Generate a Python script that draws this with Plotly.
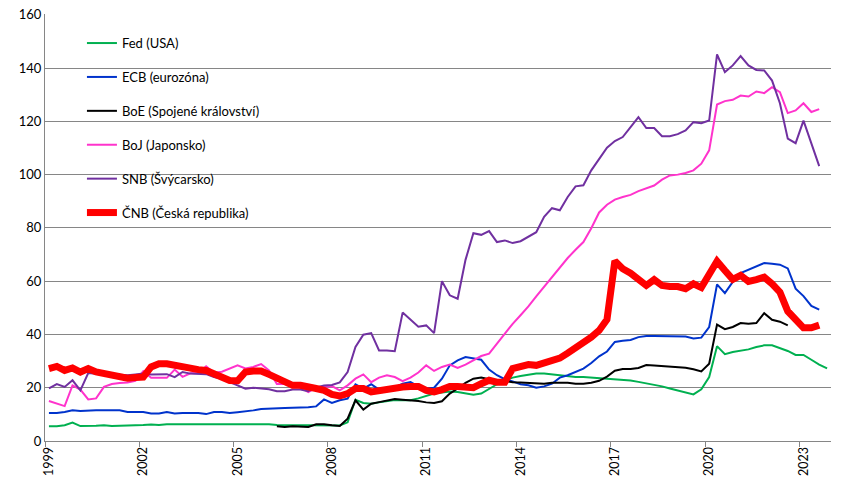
import plotly.graph_objects as go

# Quarterly periods 1999Q1 .. 2023Q4
years = list(range(1999, 2024))
quarters = [1, 2, 3, 4]
x_pos = [y + (q - 0.5) / 4 for y in years for q in quarters]

tick_years = ["1999", "2002", "2005", "2008", "2011", "2014", "2017", "2020", "2023"]

fed = [5.5, 5.5, 5.9, 6.9, 5.6, 5.6, 5.7, 5.9, 5.6, 5.7, 5.9, 5.9, 6.0, 6.2, 6.0, 6.3,
       6.3, 6.3, 6.4, 6.4, 6.4, 6.4, 6.4, 6.5, 6.5, 6.5, 6.5, 6.5, 6.3, 6.0, 5.9, 5.9,
       5.9, 5.9, 5.9, 6.0, 5.9, 5.8, 7.0, 15.5, 14.3, 14.0, 14.5, 15.0, 15.4, 15.3, 15.3, 16.0,
       16.9, 17.8, 18.2, 18.6, 18.4, 17.8, 17.4, 17.8, 19.7, 21.3, 22.8, 23.8, 24.4, 24.9, 25.3, 25.3,
       25.0, 24.7, 24.4, 24.0, 24.0, 23.8, 23.4, 23.3, 23.2, 23.0, 22.7, 22.2, 21.7, 21.2, 20.5, 19.7,
       18.9, 18.2, 17.5, 19.4, 24.0, 35.6, 32.6, 33.4, 34.0, 34.4, 35.3, 35.9, 35.9, 34.9, 33.8, 32.3,
       32.3, 30.5, 28.7, 27.3]

ecb = [10.5, 10.5, 10.9, 11.5, 11.3, 11.5, 11.5, 11.5, 11.5, 11.5, 10.9, 10.9, 10.9, 10.3, 10.3, 10.9,
       10.3, 10.5, 10.5, 10.5, 10.1, 10.9, 10.9, 10.5, 10.8, 11.1, 11.5, 12.0, 12.2, 12.4, 12.4, 12.5,
       12.5, 12.7, 13.0, 15.6, 14.3, 15.3, 15.9, 21.3, 19.7, 21.3, 19.3, 19.7, 20.0, 21.5, 22.1, 20.5,
       19.7, 20.0, 23.4, 28.4, 30.3, 31.5, 31.1, 30.5, 26.8, 24.7, 23.2, 22.4, 21.3, 20.9, 20.0, 20.5,
       21.5, 23.8, 24.7, 25.9, 27.2, 29.3, 31.8, 33.6, 37.2, 37.6, 37.9, 39.0, 39.4, 39.4, 39.4, 39.4,
       39.4, 39.2, 38.5, 38.8, 42.8, 58.8, 55.5, 59.7, 63.0, 64.2, 65.5, 66.8, 66.5, 66.2, 64.8, 57.2,
       54.4, 50.7, 49.3, None]

boe = [None] * 29 + [
       5.5, 5.3, 5.5, 5.3, 5.3, 6.3, 6.3, 5.9, 5.6, 8.4, 15.3, 11.8, 14.0, 14.6, 15.3, 15.8,
       15.5, 15.3, 15.0, 14.5, 14.3, 14.9, 17.8, 19.7, 21.8, 23.4, 23.8, 23.2, 22.8, 22.4, 22.1, 22.0,
       21.8, 21.5, 21.5, 21.9, 21.9, 21.9, 21.5, 21.5, 21.9, 22.6, 24.2, 26.4, 27.0, 27.0, 27.4, 28.5,
       28.3, 28.1, 27.8, 27.8, 27.5, 26.9, 26.1, 29.0, 43.7, 42.0, 42.8, 44.3, 44.0, 44.3, 48.0, 45.5,
       44.8, 43.4] + [None] * 5

boj = [15.0, 14.0, 13.1, 20.9, 19.3, 15.6, 16.0, 20.3, 21.4, 21.8, 22.0, 22.6, 26.2, 23.7, 23.6, 23.7,
       26.8, 24.1, 25.4, 25.4, 28.0, 25.6, 26.0, 27.2, 28.4, 27.2, 27.8, 28.9, 26.5, 21.4, 21.4, 20.9,
       20.0, 18.4, 20.0, 20.5, 20.6, 19.0, 20.9, 23.4, 25.0, 22.1, 23.8, 24.7, 24.0, 22.5, 23.8, 25.7,
       28.4, 26.3, 27.8, 28.7, 27.4, 28.7, 30.3, 31.9, 32.8, 36.5, 40.5, 44.0, 47.2, 50.5, 54.3, 58.0,
       61.3, 65.0, 68.7, 71.8, 74.7, 79.9, 85.8, 88.7, 90.6, 91.6, 92.4, 93.8, 94.9, 95.9, 98.1, 99.7,
       100.0, 100.6, 101.6, 104.1, 109.1, 126.3, 127.6, 128.1, 129.7, 129.3, 131.2, 130.6, 132.8, 131.0, 123.1, 124.1,
       126.8, 123.5, 124.6, None]

snb = [19.8, 21.4, 20.3, 22.8, 19.0, 25.5, 25.2, 24.9, 24.7, 24.9, 24.7, 25.0, 25.3, 25.0, 25.1, 25.1,
       24.0, 25.9, 25.3, 25.2, 25.1, 24.0, 23.4, 22.1, 20.8, 19.6, 20.0, 19.8, 19.4, 18.7, 18.7, 19.3,
       19.3, 18.7, 20.1, 20.8, 21.0, 22.0, 25.9, 35.3, 39.9, 40.5, 34.0, 34.0, 33.7, 48.2, 45.5, 42.9,
       43.4, 40.5, 60.0, 54.7, 53.4, 68.0, 78.0, 77.4, 78.8, 74.7, 75.3, 74.3, 75.0, 76.8, 78.4, 84.2,
       87.4, 86.6, 91.6, 95.6, 96.0, 101.6, 106.1, 110.1, 112.6, 114.1, 117.8, 121.6, 117.5, 117.5, 114.4, 114.4,
       115.2, 116.6, 119.7, 119.3, 120.3, 145.1, 138.5, 141.0, 144.5, 141.0, 139.3, 139.1, 135.3, 126.8, 113.5, 111.8,
       120.3, 111.6, 103.2, None]

cnb = [27.2, 28.0, 26.5, 27.4, 25.9, 27.2, 25.9, 25.3, 24.7, 24.0, 23.6, 23.8, 24.0, 27.8, 29.0, 29.0,
       28.4, 27.5, 27.2, 26.8, 26.5, 25.3, 24.0, 22.7, 22.6, 25.9, 26.3, 26.3, 25.0, 23.8, 22.8, 20.9,
       20.9, 20.5, 19.7, 19.0, 17.5, 16.9, 17.8, 19.7, 19.7, 18.4, 19.0, 19.7, 20.0, 20.3, 20.5, 20.5,
       19.0, 18.4, 19.3, 20.5, 20.5, 20.3, 20.0, 21.5, 22.8, 22.1, 22.1, 27.2, 28.0, 28.7, 28.4, 29.3,
       30.5, 31.1, 33.0, 34.9, 37.4, 39.0, 41.5, 45.6, 67.6, 64.7, 63.0, 60.3, 58.4, 60.6, 58.4, 58.0,
       58.0, 57.2, 59.0, 57.6, 62.8, 67.5, 64.0, 60.7, 62.2, 59.9, 60.6, 61.5, 59.0, 55.9, 48.7, 45.5,
       42.5, 42.5, 43.5, None]

series = [
    ("Fed (USA)", fed, "#00B050", 2),
    ("ECB (eurozóna)", ecb, "#0033CC", 2),
    ("BoE (Spojené království)", boe, "#000000", 2),
    ("BoJ (Japonsko)", boj, "#FF33CC", 2),
    ("SNB (Švýcarsko)", snb, "#7030A0", 2),
    ("ČNB (Česká republika)", cnb, "#FF0000", 7),
]

FONT = "Lato"

fig = go.Figure()
for i, (name, vals, color, width) in enumerate(series):
    fig.add_trace(go.Scatter(
        x=x_pos, y=vals, mode="lines", name=name,
        line=dict(color=color, width=width),
        legendgroup=f"g{i}", connectgaps=False,
    ))

label_pos = [int(t) + 0.125 for t in tick_years]

fig.update_layout(
    width=845, height=491,
    margin=dict(l=45, r=14, t=14, b=50, autoexpand=False),
    paper_bgcolor="white", plot_bgcolor="white",
    font=dict(family=FONT, size=12, color="#000000"),
    showlegend=True,
    hovermode=False,
    legend=dict(
        x=0.047, y=0.967, xanchor="left", yanchor="top",
        bgcolor="rgba(0,0,0,0)", borderwidth=0,
        font=dict(family=FONT, size=13, color="#000000"),
        tracegroupgap=14, itemwidth=30,
    ),
    xaxis=dict(
        range=[1999.0, 2024.0], automargin=False,
        tickmode="array", tickvals=label_pos, ticktext=tick_years,
        tickangle=-90, ticks="", showgrid=False,
        showline=True, linecolor="#868686", linewidth=1,
        tickfont=dict(family=FONT, size=12.5, color="#000000"),
        minor=dict(tickmode="linear", tick0=1999, dtick=3, ticks="outside",
                   ticklen=5, tickcolor="#868686", showgrid=False),
        zeroline=False,
    ),
    yaxis=dict(
        range=[0, 160.3], automargin=False,
        tickmode="linear", tick0=0, dtick=20,
        showgrid=True, gridcolor="#868686", gridwidth=1,
        showline=True, linecolor="#868686", linewidth=1,
        ticks="", tickfont=dict(family=FONT, size=13, color="#000000"),
        ticklabeloverflow="allow",
        zeroline=False,
    ),
)

fig.write_html("out.html", config={"displayModeBar": False},
               post_script="document.body.style.margin='0';")
